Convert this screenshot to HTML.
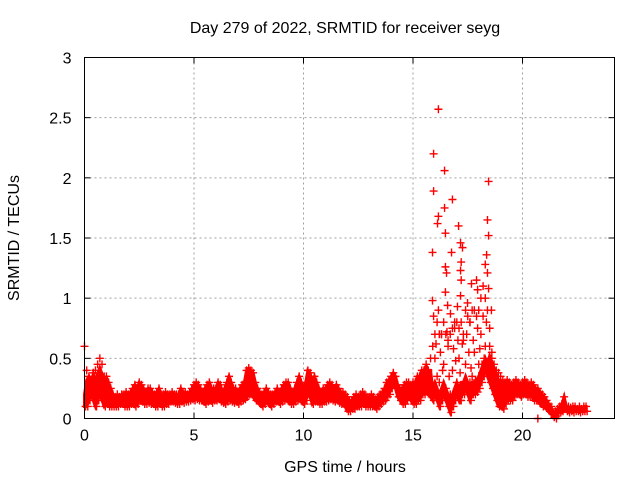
<!DOCTYPE html>
<html><head><meta charset="utf-8"><style>
body{margin:0;background:#fff}
svg text{font-family:"Liberation Sans",sans-serif;font-size:16px;fill:#000}
</style></head><body>
<svg id="c" width="640" height="480" viewBox="0 0 640 480">
<rect width="640" height="480" fill="#fff"/>
<g id="grid"></g>
<g id="band"></g>
<g id="pts"></g>
<rect x="84.5" y="57.5" width="530" height="361" fill="none" stroke="#000"/>
<g id="axes"></g>
<text x="345" y="33" text-anchor="middle">Day 279 of 2022, SRMTID for receiver seyg</text>
<text x="345" y="472" text-anchor="middle">GPS time / hours</text>
<text x="19" y="238" text-anchor="middle" transform="rotate(-90 19 238)">SRMTID / TECUs</text>
</svg>
<script>
const xTicks=[0,5,10,15,20];
const yTicks=[0,0.5,1,1.5,2,2.5,3];
const yTickLabels=["0","0.5","1","1.5","2","2.5","3"];
const hi=[0.6,0.4,0.35,0.3,0.38,0.4,0.45,0.5,0.45,0.35,
0.35,0.3,0.25,0.2,0.18,0.2,0.18,0.2,0.2,0.22,
0.2,0.22,0.25,0.28,0.25,0.3,0.28,0.25,0.22,0.25,
0.25,0.22,0.2,0.22,0.25,0.2,0.2,0.22,0.2,0.2,
0.22,0.2,0.2,0.2,0.25,0.22,0.22,0.2,0.22,0.25,
0.28,0.3,0.28,0.25,0.22,0.25,0.28,0.3,0.25,0.25,
0.25,0.3,0.28,0.22,0.25,0.3,0.35,0.3,0.25,0.25,
0.22,0.25,0.28,0.3,0.4,0.42,0.4,0.38,0.3,0.25,
0.22,0.2,0.22,0.25,0.22,0.2,0.2,0.22,0.25,0.22,
0.25,0.28,0.3,0.3,0.25,0.22,0.25,0.3,0.35,0.3,
0.25,0.3,0.4,0.38,0.3,0.35,0.3,0.25,0.22,0.25,
0.25,0.28,0.3,0.28,0.25,0.28,0.25,0.22,0.22,0.2,
0.18,0.15,0.15,0.18,0.2,0.18,0.2,0.22,0.2,0.18,
0.18,0.2,0.18,0.16,0.18,0.2,0.22,0.25,0.3,0.32,
0.35,0.38,0.35,0.28,0.25,0.25,0.28,0.3,0.3,0.28,
0.3,0.3,0.35,0.35,0.4,0.4,0.45,0.4,0.5,0.6,
0.7,0.8,0.7,0.7,0.8,0.7,0.65,0.7,0.75,0.8,
0.8,0.75,0.8,0.7,0.9,0.85,0.8,0.9,0.9,0.85,
0.9,1.0,1.1,1.0,0.9,0.6,0.5,0.45,0.4,0.38,
0.35,0.32,0.3,0.32,0.3,0.28,0.3,0.32,0.3,0.28,
0.3,0.32,0.3,0.28,0.3,0.28,0.25,0.25,0.22,0.2,
0.18,0.15,0.12,0.1,0.05,0.06,0.08,0.1,0.12,0.18,
0.1,0.1,0.09,0.1,0.1,0.08,0.1,0.08,0.1,0.1];
const lo=[0.1,0.1,0.15,0.2,0.15,0.1,0.15,0.2,0.15,0.1,
0.12,0.1,0.1,0.1,0.1,0.1,0.12,0.12,0.1,0.1,
0.1,0.12,0.12,0.1,0.12,0.15,0.14,0.12,0.12,0.13,
0.12,0.12,0.1,0.1,0.12,0.1,0.1,0.12,0.12,0.14,
0.14,0.13,0.12,0.12,0.14,0.13,0.14,0.14,0.15,0.16,
0.15,0.16,0.15,0.15,0.14,0.12,0.14,0.15,0.13,0.15,
0.15,0.16,0.14,0.13,0.12,0.14,0.15,0.14,0.13,0.14,
0.12,0.14,0.15,0.16,0.18,0.2,0.2,0.18,0.15,0.14,
0.12,0.1,0.12,0.14,0.12,0.1,0.12,0.14,0.14,0.12,
0.14,0.15,0.16,0.14,0.12,0.12,0.14,0.15,0.16,0.14,
0.12,0.15,0.2,0.18,0.12,0.14,0.14,0.12,0.12,0.14,
0.14,0.15,0.16,0.15,0.14,0.15,0.13,0.12,0.12,0.1,
0.06,0.06,0.08,0.08,0.1,0.1,0.1,0.12,0.1,0.1,
0.1,0.1,0.1,0.08,0.1,0.12,0.14,0.15,0.18,0.2,
0.25,0.28,0.25,0.18,0.15,0.12,0.12,0.15,0.18,0.15,
0.12,0.12,0.15,0.15,0.2,0.2,0.22,0.2,0.18,0.15,
0.2,0.15,0.1,0.15,0.2,0.15,0.1,0.05,0.1,0.15,
0.2,0.15,0.2,0.2,0.25,0.2,0.15,0.2,0.2,0.22,
0.25,0.3,0.35,0.4,0.35,0.3,0.25,0.2,0.15,0.1,
0.1,0.08,0.12,0.15,0.15,0.15,0.18,0.2,0.2,0.18,
0.2,0.2,0.18,0.18,0.2,0.15,0.15,0.15,0.12,0.1,
0.1,0.08,0.06,0.04,0.01,0.02,0.04,0.05,0.06,0.08,
0.06,0.05,0.06,0.05,0.06,0.06,0.05,0.06,0.06,0.06];
const spikeT=[16.16,15.94,16.44,18.45,15.94,16.8,16.44,16.16,16.12,17.08,18.4,16.48,18.45,17.17,17.26,15.89,16.76,18.36,17.2,18.3,16.48,17.17,18.4,16.53,17.2,17.9,17.67,18.45,16.48,17.17,17.95,15.89,16.58,16.16,17.49,18.58,17.03,16.71,15.94,
16.3,16.6,16.9,17.3,17.6,17.8,18.1,18.2,16.0,16.4,16.8,17.1,17.4,17.7,18.0,18.3,18.5,18.6,16.2,17.0,17.5,16.7,16.75,17.2,20.7,21.55,
16.05,16.25,16.35,16.55,16.65,16.85,16.95,17.15,17.25,17.35,17.45,17.55,17.65,17.75,17.85,17.95,18.05,18.15,18.25,18.35,16.1,16.5,17.05,17.6,18.15,18.55];
const spikeV=[2.57,2.2,2.06,1.97,1.89,1.82,1.75,1.68,1.62,1.6,1.65,1.54,1.52,1.46,1.42,1.38,1.38,1.36,1.3,1.28,1.26,1.23,1.21,1.21,1.15,1.15,1.12,1.08,1.05,1.02,1.07,0.98,0.94,0.9,0.96,0.9,0.93,0.87,0.85,
0.7,0.6,0.75,0.65,0.8,0.55,0.7,0.85,0.5,0.45,0.4,0.5,0.45,0.35,0.45,0.6,0.75,0.55,0.3,0.3,0.25,0.2,0.1,0.15,0.0,0.0,
0.62,0.55,0.4,0.72,0.35,0.58,0.48,0.38,0.62,0.3,0.7,0.55,0.42,0.65,0.32,0.75,0.58,0.38,0.5,0.8,0.35,0.25,0.65,0.3,0.45,0.4];
const X0=84.5,X1=614.5,Y0=418.5,Y1=57.5,XMAX=24.2,YMAX=3;
const sx=t=>X0+(X1-X0)*t/XMAX, sy=v=>Y0-(Y0-Y1)*v/YMAX;
const NS='http://www.w3.org/2000/svg';
function mk(tag,attrs,parent){const e=document.createElementNS(NS,tag);for(const k in attrs)e.setAttribute(k,attrs[k]);parent.appendChild(e);return e;}
const gridG=document.getElementById('grid'),axesG=document.getElementById('axes'),bandG=document.getElementById('band'),ptsG=document.getElementById('pts');
xTicks.forEach(t=>{const x=sx(t);
 if(t>0){const g=mk('line',{x1:x,x2:x,y1:Y1,y2:Y0,stroke:'#a0a0a0','stroke-dasharray':'2,3'},gridG);
 
 }
 mk('line',{x1:x,x2:x,y1:Y0,y2:Y0-6,stroke:'#000'},axesG);
 mk('line',{x1:x,x2:x,y1:Y1,y2:Y1+6,stroke:'#000'},axesG);
 const tx=mk('text',{x:x,y:Y0+22,'text-anchor':'middle'},axesG);tx.textContent=t;
 
 });
yTicks.forEach((v,i)=>{const y=sy(v);
 if(v>0&&v<YMAX){const g=mk('line',{x1:X0,x2:X1,y1:y,y2:y,stroke:'#a0a0a0','stroke-dasharray':'2,3'},gridG);
 
 }
 mk('line',{x1:X0,x2:X0+6,y1:y,y2:y,stroke:'#000'},axesG);
 mk('line',{x1:X1,x2:X1-6,y1:y,y2:y,stroke:'#000'},axesG);
 const tx=mk('text',{x:X0-13,y:y+6,'text-anchor':'end'},axesG);tx.textContent=yTickLabels[i];
 
 });
let topPts=[],botPts=[];
hi.forEach((h,i)=>{const t=i*0.1;const l=lo[i];const cap=(h-l>0.4)?0.1:0.22;const u=Math.min(h,l+cap);topPts.push(sx(t)+','+sy(u));botPts.unshift(sx(t)+','+sy(l));});
const poly=mk('polygon',{points:topPts.concat(botPts).join(' '),fill:'#f00',stroke:'#f00','stroke-width':3},bandG);


function plus(t,v){const x=sx(t),y=sy(v);const p=mk('path',{d:`M${x-4},${y}h8M${x},${y-4}v8`,stroke:'#f00','stroke-width':1.4,fill:'none'},ptsG);
 
 }
hi.forEach((h,i)=>{plus(i*0.1,h);plus(i*0.1+0.05,lo[i]);});
spikeT.forEach((t,i)=>plus(t,spikeV[i]));
</script>
</body></html>
